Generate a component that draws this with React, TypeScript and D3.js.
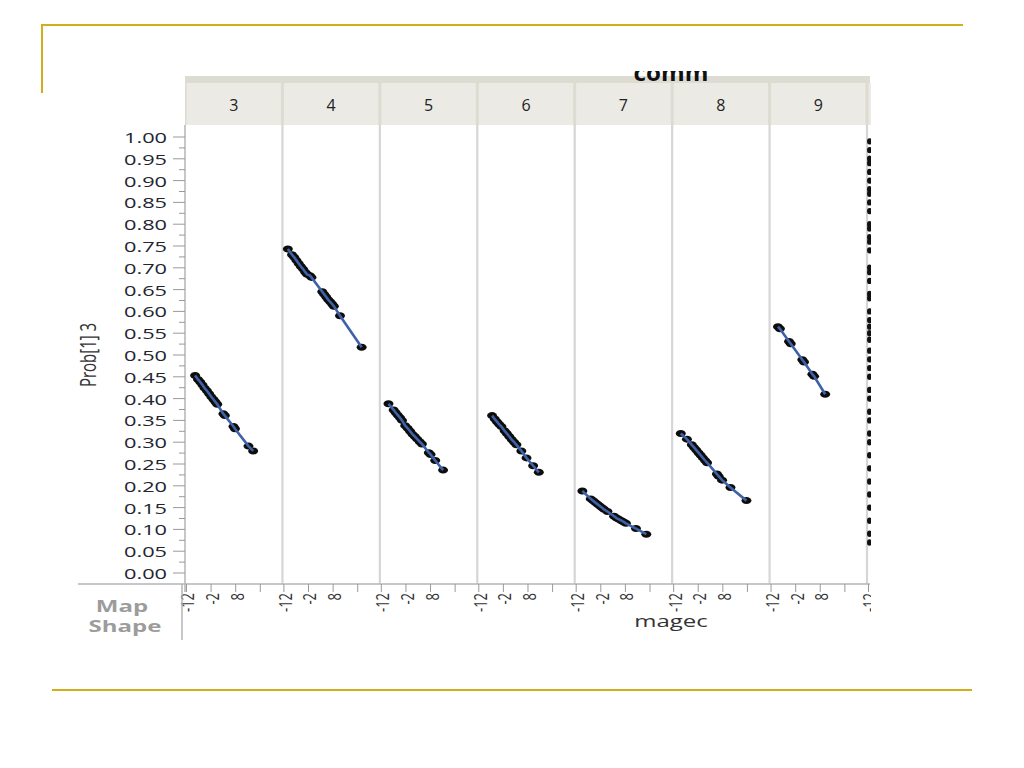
import React from "react";
import * as d3 from "d3";

// ---- data ----
const panels = ["3", "4", "5", "6", "7", "8", "9"];
const panelsAll = [...panels, "10"];

const magec3 = [-8.5, -7.3, -6.4, -5.5, -4.6, -3.7, -2.8, -1.9, -1.0, -0.2, 0.5, 3.0, 3.6, 7.1, 7.7, 13.2, 15.1];
const prob3 = [0.453, 0.444, 0.438, 0.431, 0.424, 0.418, 0.411, 0.404, 0.398, 0.392, 0.387, 0.365, 0.361, 0.336, 0.331, 0.291, 0.28];

const magec4 = [-10.4, -8.7, -7.8, -6.9, -6.0, -5.1, -4.2, -3.3, -2.6, -1.4, -0.8, 3.6, 4.4, 5.2, 6.0, 6.8, 7.6, 8.3, 10.8, 19.6];
const prob4 = [0.743, 0.73, 0.724, 0.717, 0.71, 0.703, 0.697, 0.69, 0.685, 0.682, 0.678, 0.645, 0.639, 0.633, 0.627, 0.622, 0.617, 0.612, 0.59, 0.518];

const magec5 = [-9.1, -7.0, -6.2, -5.3, -4.4, -3.6, -2.3, -1.3, -0.3, 0.7, 1.6, 2.6, 3.6, 4.5, 7.3, 8.0, 9.9, 13.1];
const prob5 = [0.388, 0.374, 0.368, 0.362, 0.356, 0.35, 0.338, 0.332, 0.325, 0.318, 0.313, 0.307, 0.301, 0.296, 0.276, 0.272, 0.258, 0.236];

const magec6 = [-6.6, -5.5, -4.6, -3.7, -2.8, -1.5, -0.6, 0.4, 1.4, 2.4, 3.3, 5.3, 7.4, 10.1, 12.4];
const prob6 = [0.361, 0.353, 0.347, 0.341, 0.336, 0.326, 0.32, 0.313, 0.306, 0.3, 0.294, 0.28, 0.264, 0.246, 0.231];

const magec7 = [-9.5, -6.1, -5.2, -4.3, -3.4, -2.5, -1.6, -0.7, 0.7, 3.4, 4.4, 5.4, 6.4, 7.3, 8.2, 12.3, 16.5];
const prob7 = [0.188, 0.17, 0.166, 0.162, 0.158, 0.154, 0.15, 0.146, 0.141, 0.13, 0.126, 0.123, 0.12, 0.117, 0.114, 0.102, 0.089];

const magec8 = [-9.1, -6.6, -4.6, -3.7, -2.8, -1.9, -1.0, -0.1, 0.8, 1.6, 5.6, 6.3, 7.7, 11.1, 17.6];
const prob8 = [0.32, 0.307, 0.294, 0.288, 0.282, 0.276, 0.27, 0.264, 0.258, 0.253, 0.227, 0.222, 0.213, 0.196, 0.166];

const magec9 = [-9.2, -8.4, -4.7, -4.0, 0.7, 1.4, 4.8, 5.5, 10.0];
const prob9 = [0.565, 0.56, 0.531, 0.526, 0.489, 0.484, 0.456, 0.451, 0.41];

// clipped next panel at the right edge (only its first column of points is visible)
const partialProbs = [0.99, 0.97, 0.95, 0.94, 0.92, 0.9, 0.88, 0.87, 0.85, 0.83, 0.8, 0.79, 0.77, 0.76, 0.74, 0.7, 0.69, 0.67, 0.64, 0.63, 0.6, 0.58, 0.565, 0.55, 0.535, 0.51, 0.49, 0.47, 0.45, 0.42, 0.4, 0.37, 0.35, 0.32, 0.3, 0.27, 0.24, 0.21, 0.18, 0.15, 0.12, 0.09, 0.07];

const xTicks = [-12, -2, 8, 18];
const xTickLabels = ["-12", "-2", "8", ""];

const series: { panel: string; magec: number[]; prob: number[] }[] = [
  { panel: "3", magec: magec3, prob: prob3 },
  { panel: "4", magec: magec4, prob: prob4 },
  { panel: "5", magec: magec5, prob: prob5 },
  { panel: "6", magec: magec6, prob: prob6 },
  { panel: "7", magec: magec7, prob: prob7 },
  { panel: "8", magec: magec8, prob: prob8 },
  { panel: "9", magec: magec9, prob: prob9 },
];

// ---- layout ----
const W = 1024;
const H = 768;
const plotLeft = 185;
const panelW = 97.43;
const plotTop = 125;
const axisY = 584;
const clipRight = 870;
const GOLD = "#d2ad1e";
const FONT = "'Open Sans', 'Noto Sans', sans-serif";
const SX = 1.45;

export default function App() {
  const outer = d3
    .scaleBand<string>()
    .domain(panelsAll)
    .range([plotLeft, plotLeft + panelW * panelsAll.length])
    .padding(0);
  const x = d3.scaleLinear().domain([-12.6, 27]).range([0, outer.bandwidth()]);
  const y = d3.scaleLinear().domain([0, 1]).range([573, 137]);
  const line = d3
    .line<[number, number]>()
    .x((d) => x(d[0]))
    .y((d) => y(d[1]));

  const majors = d3.range(0, 1.0001, 0.05);
  const minors = d3.range(0.025, 1.0, 0.05);

  return (
    <svg
      width={W}
      height={H}
      style={{ position: "absolute", left: 0, top: 0, background: "#fff" }}
      fontFamily={FONT}
    >
      <defs>
        <clipPath id="plotClip">
          <rect x={0} y={60} width={clipRight + 1} height={600} />
        </clipPath>
        <clipPath id="titleClip">
          <rect x={0} y={71} width={W} height={20} />
        </clipPath>
      </defs>

      {/* slide decoration */}
      <line x1={42} x2={963} y1={25} y2={25} stroke={GOLD} strokeWidth={2} />
      <line x1={42} x2={42} y1={24} y2={93} stroke={GOLD} strokeWidth={2} />
      <line x1={52} x2={972} y1={690} y2={690} stroke={GOLD} strokeWidth={2} />

      <g clipPath="url(#plotClip)">
        {/* header band */}
        <rect x={plotLeft} y={76} width={clipRight - plotLeft} height={49} fill="#dcdcd3" />
        {panelsAll.map((p) => (
          <rect
            key={"h" + p}
            x={(outer(p) as number) + 1.5}
            y={83}
            width={outer.bandwidth() - 3}
            height={42}
            fill="#ebeae4"
          />
        ))}
        {panels.map((p) => (
          <text
            key={"ht" + p}
            x={(outer(p) as number) + outer.bandwidth() / 2}
            y={105}
            textAnchor="middle"
            dominantBaseline="central"
            fontSize={16}
            fill="#222"
          >
            {p}
          </text>
        ))}
        <g clipPath="url(#titleClip)">
          <text
            transform={`translate(671,81) scale(1.05,1)`}
            textAnchor="middle"
            fontSize={23}
            fontWeight="bold"
            fill="#111"
          >
            comm
          </text>
        </g>

        {/* panel separators */}
        {panelsAll.slice(1).map((p) => (
          <line
            key={"s" + p}
            x1={outer(p) as number}
            x2={outer(p) as number}
            y1={plotTop}
            y2={axisY}
            stroke="#d6d6d6"
            strokeWidth={2.2}
          />
        ))}

        {/* x axis line and ticks */}
        <line x1={78} x2={clipRight} y1={axisY} y2={axisY} stroke="#b4b4b4" strokeWidth={1.5} />
        {panelsAll.map((p) => (
          <g key={"xt" + p} transform={`translate(${outer(p)},0)`}>
            {xTicks.map((t, i) => (
              <g key={t}>
                <line x1={x(t)} x2={x(t)} y1={axisY} y2={axisY + 8} stroke="#9a9a9a" strokeWidth={1} />
                {xTickLabels[i] && (
                  <text
                    transform={`translate(${x(t) + 1},${593}) scale(${SX},1) rotate(-90)`}
                    textAnchor="end"
                    dominantBaseline="central"
                    fontSize={13}
                    fill="#333"
                  >
                    {xTickLabels[i]}
                  </text>
                )}
              </g>
            ))}
          </g>
        ))}

        {/* data */}
        {series.map((s) => {
          const pts: [number, number][] = s.magec.map((m, i) => [m, s.prob[i]]);
          return (
            <g key={"d" + s.panel} transform={`translate(${outer(s.panel)},0)`}>
              {pts.map((d, i) => (
                <ellipse key={i} cx={x(d[0])} cy={y(d[1])} rx={5} ry={3.5} fill="#0d0d0d" />
              ))}
              <path d={line(pts) || ""} fill="none" stroke="#3e62a8" strokeWidth={2.6} />
            </g>
          );
        })}
        {partialProbs.map((p, i) => (
          <ellipse key={"pp" + i} cx={(outer("10") as number) + 2.5} cy={y(p)} rx={2.5} ry={3.2} fill="#111" />
        ))}
      </g>

      {/* y axis */}
      <line x1={plotLeft} x2={plotLeft} y1={plotTop} y2={axisY + 8} stroke="#b4b4b4" strokeWidth={1.5} />
      {majors.map((t) => (
        <g key={"ym" + t.toFixed(2)}>
          <line x1={plotLeft - 12} x2={plotLeft} y1={y(t)} y2={y(t)} stroke="#9a9a9a" strokeWidth={1} />
          <text
            transform={`translate(167,${y(t)}) scale(${SX},1)`}
            textAnchor="end"
            dominantBaseline="central"
            fontSize={15}
            fill="#22252f"
          >
            {t.toFixed(2)}
          </text>
        </g>
      ))}
      {minors.map((t) => (
        <line
          key={"yn" + t.toFixed(3)}
          x1={plotLeft - 6}
          x2={plotLeft}
          y1={y(t)}
          y2={y(t)}
          stroke="#9a9a9a"
          strokeWidth={1}
        />
      ))}
      <text
        transform={`translate(88,355) scale(1.4,1) rotate(-90)`}
        textAnchor="middle"
        dominantBaseline="central"
        fontSize={15}
        fill="#333"
      >
        Prob[1] 3
      </text>

      {/* bottom-left Map Shape cell */}
      <line x1={182} x2={182} y1={axisY} y2={640} stroke="#b4b4b4" strokeWidth={1.5} />
      <text
        transform={`translate(122,606) scale(1.5,1)`}
        textAnchor="middle"
        dominantBaseline="central"
        fontSize={16}
        fontWeight="bold"
        fill="#9c9c9c"
      >
        Map
      </text>
      <text
        transform={`translate(125,626) scale(1.5,1)`}
        textAnchor="middle"
        dominantBaseline="central"
        fontSize={16}
        fontWeight="bold"
        fill="#9c9c9c"
      >
        Shape
      </text>

      {/* x axis title */}
      <text
        transform={`translate(671,627) scale(1.5,1)`}
        textAnchor="middle"
        fontSize={16}
        fill="#333"
      >
        magec
      </text>
    </svg>
  );
}
